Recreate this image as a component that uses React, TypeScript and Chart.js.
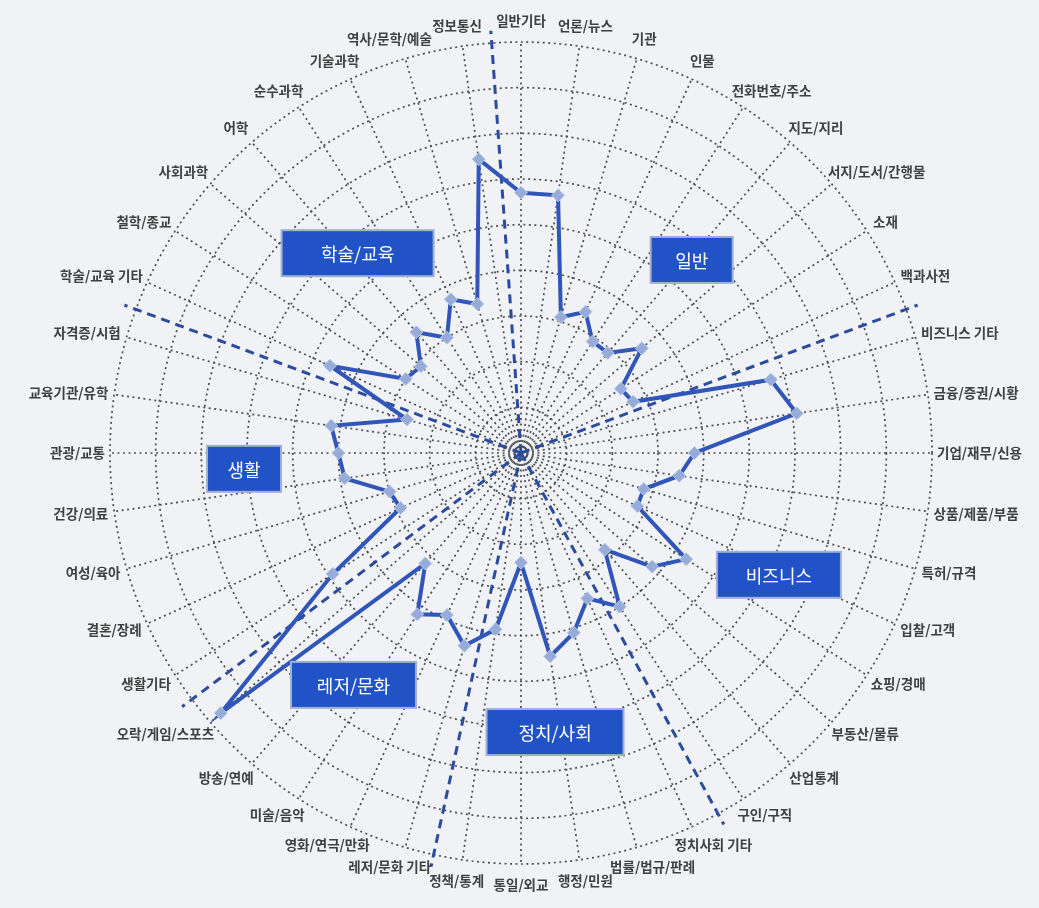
import React, { useEffect, useRef } from 'react';
import { Chart, registerables } from 'chart.js';

Chart.register(...registerables);

// ---- data ----
const categories = [
  '일반기타', '언론/뉴스', '기관', '인물', '전화번호/주소', '지도/지리', '서지/도서/간행물', '소재', '백과사전',
  '비즈니스 기타', '금융/증권/시황', '기업/재무/신용', '상품/제품/부품', '특허/규격', '입찰/고객', '쇼핑/경매',
  '부동산/물류', '산업통계', '구인/구직',
  '정치사회 기타', '법률/법규/판례', '행정/민원', '통일/외교', '정책/통계',
  '레저/문화 기타', '영화/연극/만화', '미술/음악', '방송/연예', '오락/게임/스포츠',
  '생활기타', '결혼/장례', '여성/육아', '건강/의료', '관광/교통', '교육기관/유학', '자격증/시험',
  '학술/교육 기타', '철학/종교', '사회과학', '어학', '순수과학', '기술과학', '역사/문학/예술', '정보통신',
];

const usage = [
  57, 57, 31, 34, 29, 29, 35, 26, 27,
  57, 61, 38, 35, 28, 28, 43, 38, 28, 40,
  35, 41, 45, 24, 39,
  44, 39, 42, 32, 87,
  49, 29, 30, 39, 40, 42, 26,
  46, 30, 29, 35, 30, 37, 34, 65,
];

const sectionNames = ['일반', '비즈니스', '정치/사회', '레저/문화', '생활', '학술/교육'];
const sectionStarts = [0, 9, 19, 24, 29, 36];

const scaleMax = 90;
const scaleStep = 10;

// ---- layout of the section name boxes (angle in category units, radius as share of the scale) ----
const sectionBoxLayout = [
  { at: 5.07, r: 0.627, w: 80 },
  { at: 14.09, r: 0.694, w: 122 },
  { at: 21.15, r: 0.684, w: 135 },
  { at: 26.38, r: 0.696, w: 123 },
  { at: 32.6, r: 0.675, w: 72 },
  { at: 39.2, r: 0.628, w: 150 },
];

const LABEL_FONT = 'bold 13.5px "Noto Sans CJK KR", "Noto Sans", sans-serif';
const BOX_FONT = '18px "Noto Sans CJK KR", "Noto Sans", sans-serif';

const radarDecor = {
  id: 'radarDecor',
  beforeDatasetsDraw(chart: any) {
    const s = chart.scales.r;
    const ctx = chart.ctx;
    ctx.save();
    ctx.strokeStyle = '#2b4b9f';
    ctx.lineWidth = 3;
    ctx.setLineDash([9, 6]);
    sectionStarts.forEach((start) => {
      const p = s.getPointPosition(start - 0.5, s.drawingArea * 1.03);
      ctx.beginPath();
      ctx.moveTo(s.xCenter, s.yCenter);
      ctx.lineTo(p.x, p.y);
      ctx.stroke();
    });
    ctx.restore();
  },
  afterDatasetsDraw(chart: any) {
    const s = chart.scales.r;
    const ctx = chart.ctx;
    ctx.save();
    ctx.setLineDash([]);
    sectionNames.forEach((name, k) => {
      const lay = sectionBoxLayout[k];
      const p = s.getPointPosition(lay.at, s.drawingArea * lay.r);
      const w = lay.w;
      const h = 44;
      const x = p.x - w / 2;
      const y = p.y - h / 2;
      ctx.fillStyle = '#9fb0d4';
      ctx.fillRect(x - 2, y - 2, w + 4, h + 4);
      ctx.fillStyle = '#2153c6';
      ctx.fillRect(x, y, w, h);
      ctx.font = BOX_FONT;
      ctx.fillStyle = '#ffffff';
      ctx.textAlign = 'center';
      ctx.textBaseline = 'middle';
      ctx.fillText(name, p.x, p.y + 1);
    });
    ctx.restore();
  },
  afterDraw(chart: any) {
    const s = chart.scales.r;
    const ctx = chart.ctx;
    ctx.save();
    ctx.font = LABEL_FONT;
    ctx.fillStyle = '#404040';
    ctx.textAlign = 'center';
    ctx.textBaseline = 'middle';
    const h = 14;
    categories.forEach((label, i) => {
      const a = s.getIndexAngle(i);
      const sin = Math.sin(a);
      const cos = Math.cos(a);
      const pad = 5 + 9 * Math.abs(cos);
      const p = s.getPointPosition(i, s.drawingArea + pad);
      const w = ctx.measureText(label).width;
      const cx = p.x + (sin * w) / 2;
      const cy = p.y - (cos * h) / 2;
      ctx.fillText(label, cx, cy);
    });
    ctx.restore();
  },
};

export default function App() {
  const ref = useRef<HTMLCanvasElement | null>(null);

  useEffect(() => {
    if (!ref.current) return;
    const chart = new Chart(ref.current, {
      type: 'radar',
      data: {
        labels: categories,
        datasets: [
          {
            label: '이용',
            data: usage,
            borderColor: '#2f56b8',
            borderWidth: 4,
            fill: false,
            tension: 0,
            pointStyle: 'rectRot',
            pointRadius: 6.5,
            pointBackgroundColor: '#96abd8',
            pointBorderColor: '#b9c8e8',
            pointBorderWidth: 1,
          },
        ],
      },
      options: {
        responsive: false,
        animation: false,
        layout: { padding: { left: 3, right: 0, top: 42, bottom: 44 } },
        plugins: { legend: { display: false }, tooltip: { enabled: false } },
        scales: {
          r: {
            min: 0,
            max: scaleMax,
            ticks: { display: false, stepSize: scaleStep },
            pointLabels: { display: false },
            grid: { circular: true, color: '#4f4f4f', lineWidth: 1.7 },
            border: { dash: [2, 3.5] },
            angleLines: { color: '#4f4f4f', lineWidth: 1.7, borderDash: [2, 3.5] },
          },
        },
      },
      plugins: [radarDecor],
    });
    return () => chart.destroy();
  }, []);

  return (
    <div style={{ position: 'fixed', left: 0, top: 0, width: 1039, height: 908, background: '#f0f2f5' }}>
      <canvas ref={ref} width={1039} height={908} style={{ width: 1039, height: 908, display: 'block' }} />
    </div>
  );
}
